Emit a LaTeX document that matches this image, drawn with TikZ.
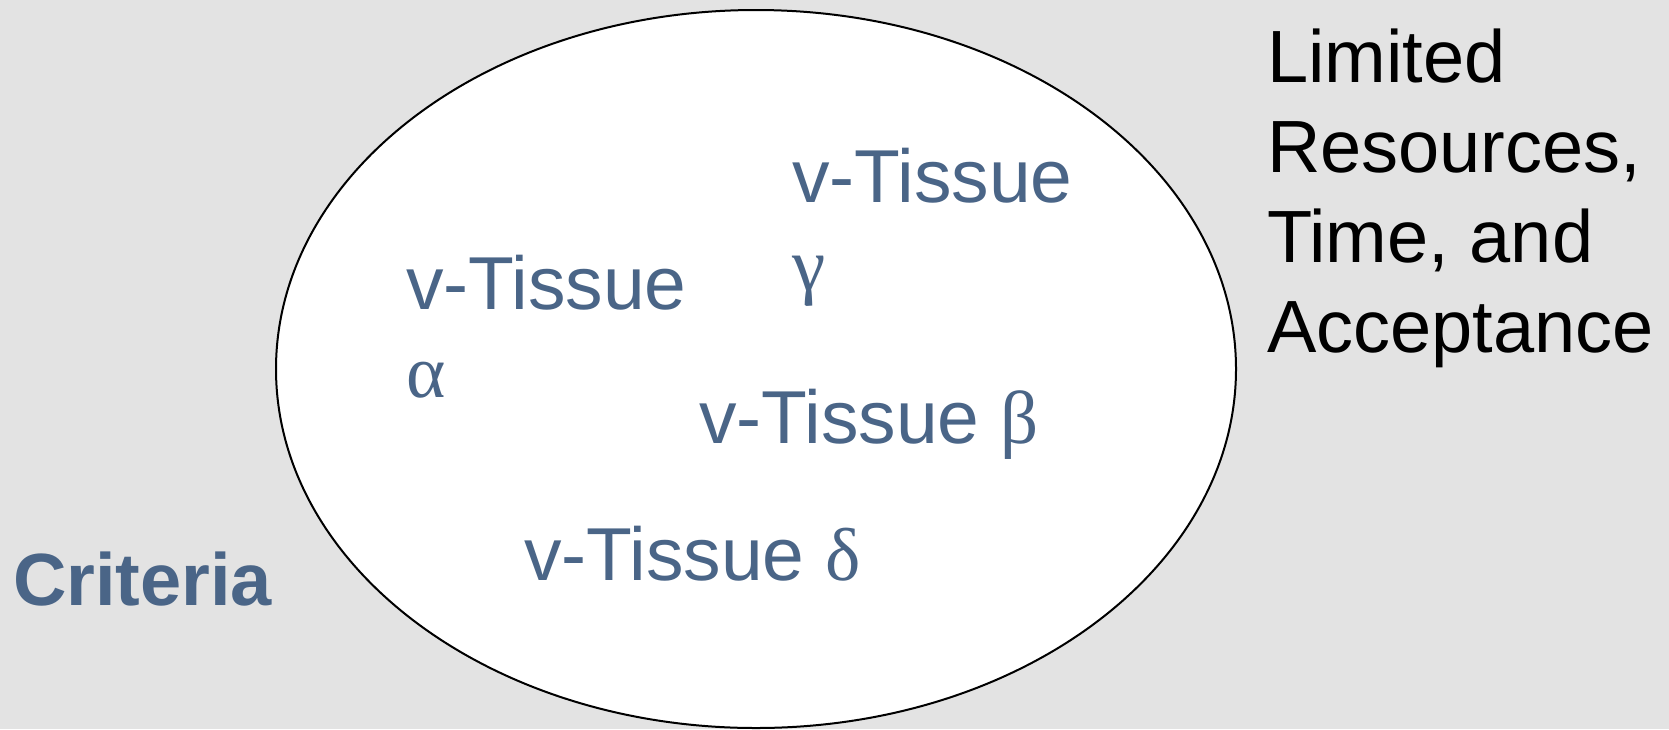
\documentclass[tikz,border=0pt]{standalone}
\usepackage{fontspec}
\usetikzlibrary{shapes.geometric}
\setmainfont{Liberation Sans}
\newfontfamily\grk{Liberation Serif}
\definecolor{bg}{HTML}{E3E3E3}
\definecolor{tblue}{HTML}{4A6587}
\begin{document}
\begin{tikzpicture}[x=1pt,y=-1pt,
  lbl/.style={anchor=base west,inner sep=0pt,outer sep=0pt,align=left,text=tblue,font=\fontsize{75}{88}\selectfont},
  blk/.style={anchor=base west,inner sep=0pt,outer sep=0pt,align=left,text=black,font=\fontsize{74}{90}\selectfont},
  crit/.style={anchor=base west,inner sep=0pt,outer sep=0pt,text=tblue,font=\fontsize{74}{86}\selectfont\bfseries}]
\fill[bg] (0,0) rectangle (1669,729);
\useasboundingbox (0,0) rectangle (1669,729);
\node[ellipse,draw=black,fill=white,line width=2pt,minimum width=960pt,minimum height=718pt,inner sep=0pt] (ell) at (756,369) {};
\node[lbl] (alpha) at (406,397) {v-Tissue\\{\grk α}};
\node[lbl] (gamma) at (792,290) {v-Tissue\\{\grk γ}};
\node[lbl] (beta) at (699,443) {v-Tissue {\grk β}};
\node[lbl] (delta) at (524,580) {v-Tissue {\grk δ}};
\node[crit] (crit) at (13,605) {Criteria};
\node[blk] (lim) at (1267,352) {Limited\\Resources,\\Time, and\\Acceptance};
\end{tikzpicture}
\end{document}
